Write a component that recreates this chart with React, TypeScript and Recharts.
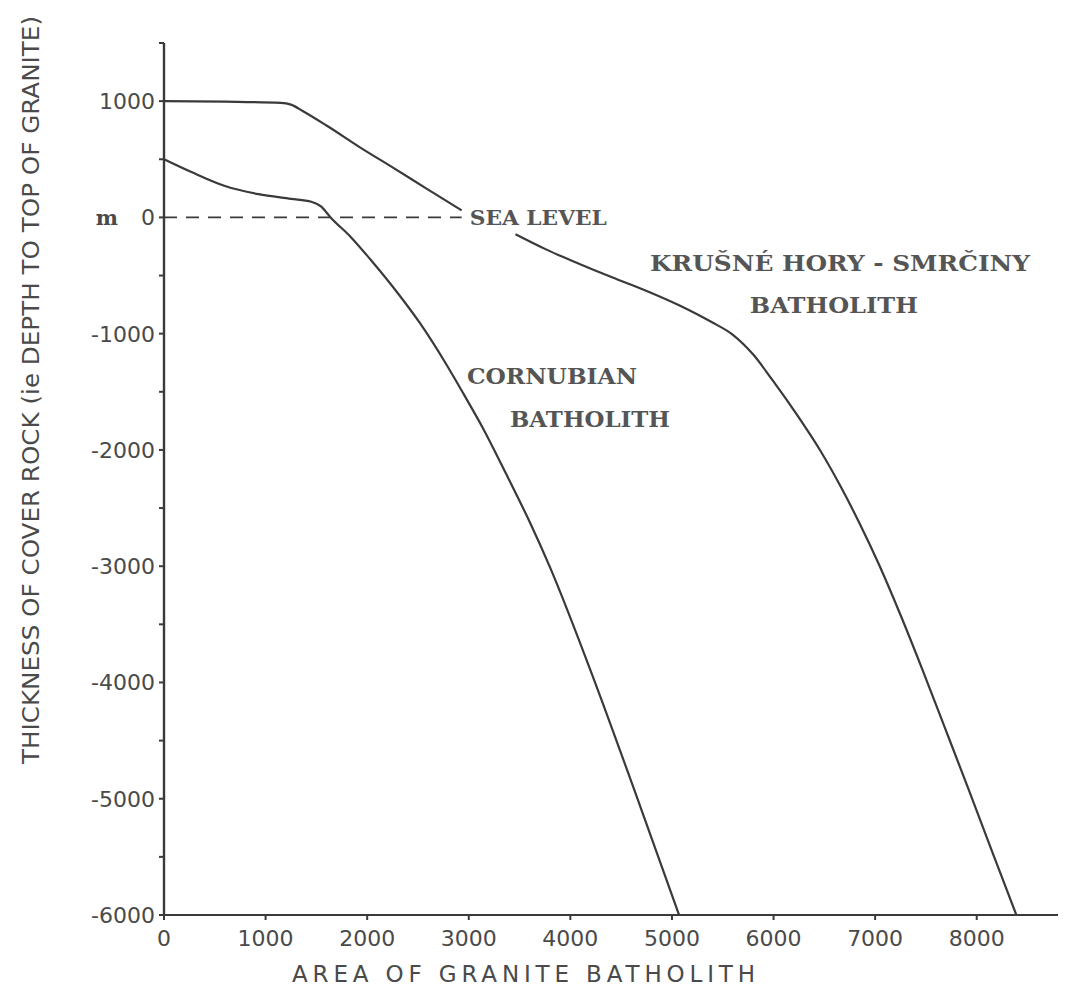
import { LineChart, Line, XAxis, YAxis, ReferenceLine, ReferenceDot } from 'recharts';

// axis ticks
const xTicks = [0, 1000, 2000, 3000, 4000, 5000, 6000, 7000, 8000];
const yTicks = [1500, 1000, 500, 0, -500, -1000, -1500, -2000, -2500, -3000, -3500, -4000, -4500, -5000, -5500, -6000];

// Krušné Hory - Smrčiny batholith (gap where the sea level label sits)
const krusneArea = [0, 600, 1150, 1250, 1365, 1600, 1925, 2250, 2580, 2930, 3200, 3460, 3760, 4090, 4410, 4745, 5070, 5390, 5600, 5800, 5990, 6240, 6470, 6670, 6840, 7040, 7250, 7470, 7700, 7920, 8150, 8390];
const krusneDepth: (number | null)[] = [1000, 995, 985, 970, 915, 790, 605, 430, 250, 60, null, -145, -275, -400, -515, -630, -755, -900, -1010, -1180, -1400, -1710, -2020, -2330, -2620, -2990, -3420, -3900, -4420, -4920, -5450, -6000];

// Cornubian batholith
const cornubianArea = [0, 270, 600, 930, 1250, 1450, 1545, 1640, 1840, 2030, 2300, 2520, 2790, 2950, 3150, 3370, 3600, 3800, 4200, 4640, 5070];
const cornubianDepth = [500, 390, 270, 200, 160, 135, 95, 0, -170, -360, -650, -910, -1280, -1520, -1830, -2210, -2620, -3010, -3900, -4950, -6000];

// sea level dashes
const seaLevelEnd = 2930;

const krusneData = krusneArea.map((a, i) => ({ area: a, depth: krusneDepth[i] }));
const cornubianData = cornubianArea.map((a, i) => ({ area: a, depth: cornubianDepth[i] }));

const annotations = [
  { text: 'SEA LEVEL', area: 3010, depth: 0, anchor: 'start', size: 20, len: 137, dy: 8 },
  { text: 'KRUŠNÉ HORY - SMRČINY', area: 6654, depth: -465, anchor: 'middle', size: 23, len: 380, dy: 0 },
  { text: 'BATHOLITH', area: 6594, depth: -818, anchor: 'middle', size: 23, len: 168, dy: 0 },
  { text: 'CORNUBIAN', area: 3819, depth: -1437, anchor: 'middle', size: 22, len: 170, dy: 0 },
  { text: 'BATHOLITH', area: 4193, depth: -1799, anchor: 'middle', size: 22, len: 160, dy: 0 },
];

const ink = '#3a3a3a';
const textInk = '#4a4a4a';
const sans = '"DejaVu Sans", sans-serif';
const serif = '"DejaVu Serif", serif';

function YTick(props: any) {
  const { x, y, payload } = props;
  const v = payload.value as number;
  if (v % 1000 !== 0 || v > 1000) return <g />;
  return (
    <g>
      <text x={x} y={y} dy="0.36em" textAnchor="end" fontFamily={sans} fontSize={22} fill={textInk}>
        {String(v)}
      </text>
      {v === 0 && (
        <text x={x - 37} y={y} dy="0.36em" textAnchor="end" fontFamily={serif} fontWeight="bold" fontSize={21} fill={textInk}>
          m
        </text>
      )}
    </g>
  );
}

function XTick(props: any) {
  const { x, y, payload } = props;
  return (
    <text x={x} y={y} dy={23} textAnchor="middle" fontFamily={sans} fontSize={22} fill={textInk}>
      {String(payload.value)}
    </text>
  );
}

function YLabel(props: any) {
  const { viewBox } = props;
  const cx = 31;
  const cy = viewBox.y + viewBox.height / 2 - 89;
  return (
    <text
      x={cx}
      y={cy}
      transform={`rotate(-90 ${cx} ${cy})`}
      textAnchor="middle"
      dominantBaseline="central"
      fontFamily={sans}
      fontSize={23}
      textLength={748}
      lengthAdjust="spacingAndGlyphs"
      fill={textInk}
    >
      THICKNESS OF COVER ROCK (ie DEPTH TO TOP OF GRANITE)
    </text>
  );
}

function XLabel(props: any) {
  const { viewBox } = props;
  return (
    <text
      x={viewBox.x + 128}
      y={viewBox.y + 67}
      fontFamily={sans}
      fontSize={23}
      textLength={463}
      lengthAdjust="spacing"
      fill={textInk}
    >
      AREA OF GRANITE BATHOLITH
    </text>
  );
}

export default function App() {
  return (
    <div style={{ width: 1068, height: 987, background: '#fff' }}>
      <style>{'body{margin:0}'}</style>
      <LineChart width={1068} height={987} margin={{ top: 43, right: 10, bottom: 0, left: 0 }}>
        <XAxis
          type="number"
          dataKey="area"
          domain={[0, 8800]}
          ticks={xTicks}
          allowDataOverflow
          height={72}
          tickSize={5}
          tickMargin={3}
          axisLine={{ stroke: ink, strokeWidth: 2.2 }}
          tickLine={{ stroke: ink, strokeWidth: 2 }}
          tick={XTick}
          label={{ content: XLabel }}
        />
        <YAxis
          type="number"
          dataKey="depth"
          domain={[-6000, 1500]}
          ticks={yTicks}
          allowDataOverflow
          width={164}
          tickSize={5}
          tickMargin={4}
          axisLine={{ stroke: ink, strokeWidth: 2.4 }}
          tickLine={{ stroke: ink, strokeWidth: 2 }}
          tick={YTick}
          label={{ content: YLabel }}
        />
        <ReferenceLine
          segment={[{ x: 0, y: 0 }, { x: seaLevelEnd, y: 0 }]}
          stroke={ink}
          strokeWidth={1.8}
          strokeDasharray="13 9"
        />
        <Line
          data={krusneData}
          dataKey="depth"
          type="monotone"
          stroke={ink}
          strokeWidth={2.2}
          dot={false}
          connectNulls={false}
          isAnimationActive={false}
        />
        <Line
          data={cornubianData}
          dataKey="depth"
          type="monotone"
          stroke={ink}
          strokeWidth={2.2}
          dot={false}
          isAnimationActive={false}
        />
        {annotations.map((a, i) => (
          <ReferenceDot
            key={i}
            x={a.area}
            y={a.depth}
            r={0}
            shape={(p: any) => (
              <text
                x={p.cx}
                y={p.cy}
                dy={a.dy}
                textAnchor={a.anchor}
                fontFamily={serif}
                fontWeight="bold"
                fontSize={a.size}
                textLength={a.len}
                lengthAdjust="spacingAndGlyphs"
                fill="#555"
              >
                {a.text}
              </text>
            )}
          />
        ))}
      </LineChart>
    </div>
  );
}
